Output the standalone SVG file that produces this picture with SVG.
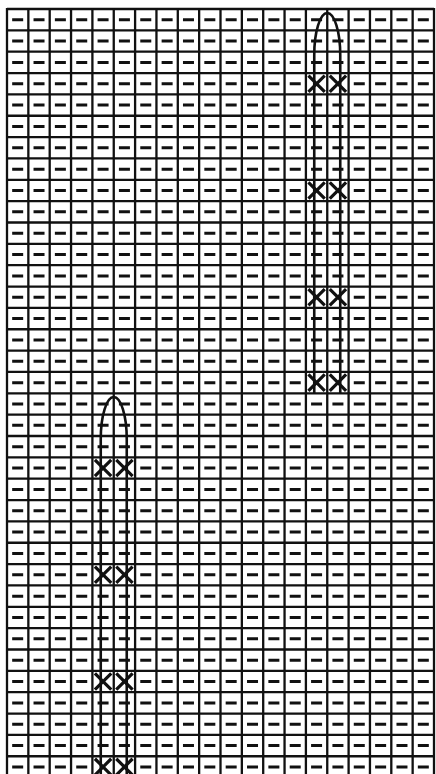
<svg xmlns="http://www.w3.org/2000/svg" width="436" height="774" viewBox="0 0 436 774">
<style>
.grid{stroke:#111;stroke-width:2.3;fill:none}
.dash line{stroke:#111;stroke-width:3;stroke-dasharray:11 10.35}
.cross{stroke:#111;stroke-width:3.2;fill:none}
.loop{stroke:#111;stroke-width:2.6;fill:none}
</style>
<defs>
<path id="x" d="M2.5 2.5L18.85 18.85M18.85 2.5L2.5 18.85"/>
</defs>
<rect width="436" height="774" fill="#fff"/>
<g id="grid">
<path class="grid" d="M7 9H434M7 30.35H434M7 51.7H434M7 73.05H434M7 94.4H434M7 115.75H434M7 137.1H434M7 158.45H434M7 179.8H434M7 201.15H434M7 222.5H434M7 243.85H434M7 265.2H434M7 286.55H434M7 307.9H434M7 329.25H434M7 350.6H434M7 371.95H434M7 393.3H434M7 414.65H434M7 436H434M7 457.35H434M7 478.7H434M7 500.05H434M7 521.4H434M7 542.75H434M7 564.1H434M7 585.45H434M7 606.8H434M7 628.15H434M7 649.5H434M7 670.85H434M7 692.2H434M7 713.55H434M7 734.9H434M7 756.25H434"/>
<path class="grid" d="M7 8V774M28.35 8V774M49.7 8V774M71.05 8V774M92.4 8V774M113.75 8V774M135.1 8V774M156.45 8V774M177.8 8V774M199.15 8V774M220.5 8V774M241.85 8V774M263.2 8V774M284.55 8V774M305.9 8V774M327.25 8V774M348.6 8V774M369.95 8V774M391.3 8V774M412.65 8V774M434 8V774"/>
</g>
<g id="purl-stitches" class="dash">
<line x1="12.175" x2="434" y1="19.675" y2="19.675"/>
<line x1="12.175" x2="434" y1="41.025" y2="41.025"/>
<line x1="12.175" x2="434" y1="62.375" y2="62.375"/>
<line x1="12.175" x2="300.725" y1="83.725" y2="83.725"/>
<line x1="353.775" x2="434" y1="83.725" y2="83.725"/>
<line x1="12.175" x2="434" y1="105.075" y2="105.075"/>
<line x1="12.175" x2="434" y1="126.425" y2="126.425"/>
<line x1="12.175" x2="434" y1="147.775" y2="147.775"/>
<line x1="12.175" x2="434" y1="169.125" y2="169.125"/>
<line x1="12.175" x2="300.725" y1="190.475" y2="190.475"/>
<line x1="353.775" x2="434" y1="190.475" y2="190.475"/>
<line x1="12.175" x2="434" y1="211.825" y2="211.825"/>
<line x1="12.175" x2="434" y1="233.175" y2="233.175"/>
<line x1="12.175" x2="434" y1="254.525" y2="254.525"/>
<line x1="12.175" x2="434" y1="275.875" y2="275.875"/>
<line x1="12.175" x2="300.725" y1="297.225" y2="297.225"/>
<line x1="353.775" x2="434" y1="297.225" y2="297.225"/>
<line x1="12.175" x2="434" y1="318.575" y2="318.575"/>
<line x1="12.175" x2="434" y1="339.925" y2="339.925"/>
<line x1="12.175" x2="434" y1="361.275" y2="361.275"/>
<line x1="12.175" x2="300.725" y1="382.625" y2="382.625"/>
<line x1="353.775" x2="434" y1="382.625" y2="382.625"/>
<line x1="12.175" x2="434" y1="403.975" y2="403.975"/>
<line x1="12.175" x2="434" y1="425.325" y2="425.325"/>
<line x1="12.175" x2="434" y1="446.675" y2="446.675"/>
<line x1="12.175" x2="87.225" y1="468.025" y2="468.025"/>
<line x1="140.275" x2="434" y1="468.025" y2="468.025"/>
<line x1="12.175" x2="434" y1="489.375" y2="489.375"/>
<line x1="12.175" x2="434" y1="510.725" y2="510.725"/>
<line x1="12.175" x2="434" y1="532.075" y2="532.075"/>
<line x1="12.175" x2="434" y1="553.425" y2="553.425"/>
<line x1="12.175" x2="87.225" y1="574.775" y2="574.775"/>
<line x1="140.275" x2="434" y1="574.775" y2="574.775"/>
<line x1="12.175" x2="434" y1="596.125" y2="596.125"/>
<line x1="12.175" x2="434" y1="617.475" y2="617.475"/>
<line x1="12.175" x2="434" y1="638.825" y2="638.825"/>
<line x1="12.175" x2="434" y1="660.175" y2="660.175"/>
<line x1="12.175" x2="87.225" y1="681.525" y2="681.525"/>
<line x1="140.275" x2="434" y1="681.525" y2="681.525"/>
<line x1="12.175" x2="434" y1="702.875" y2="702.875"/>
<line x1="12.175" x2="434" y1="724.225" y2="724.225"/>
<line x1="12.175" x2="434" y1="745.575" y2="745.575"/>
<line x1="12.175" x2="87.225" y1="766.925" y2="766.925"/>
<line x1="140.275" x2="434" y1="766.925" y2="766.925"/>
</g>
<g id="cable-top">
<path class="loop" d="M314.25 393.3V55A13 42 0 0 1 340.25 55V393.3"/>
<g class="cross">
<use href="#x" x="305.9" y="73.05"/><use href="#x" x="327.25" y="73.05"/>
<use href="#x" x="305.9" y="179.8"/><use href="#x" x="327.25" y="179.8"/>
<use href="#x" x="305.9" y="286.55"/><use href="#x" x="327.25" y="286.55"/>
<use href="#x" x="305.9" y="371.95"/><use href="#x" x="327.25" y="371.95"/>
</g>
</g>
<g id="cable-bottom">
<path class="loop" d="M100.75 776V439A13 42 0 0 1 126.75 439V776"/>
<g class="cross">
<use href="#x" x="92.4" y="457.35"/><use href="#x" x="113.75" y="457.35"/>
<use href="#x" x="92.4" y="564.1"/><use href="#x" x="113.75" y="564.1"/>
<use href="#x" x="92.4" y="670.85"/><use href="#x" x="113.75" y="670.85"/>
<use href="#x" x="92.4" y="756.25"/><use href="#x" x="113.75" y="756.25"/>
</g>
</g>
</svg>
